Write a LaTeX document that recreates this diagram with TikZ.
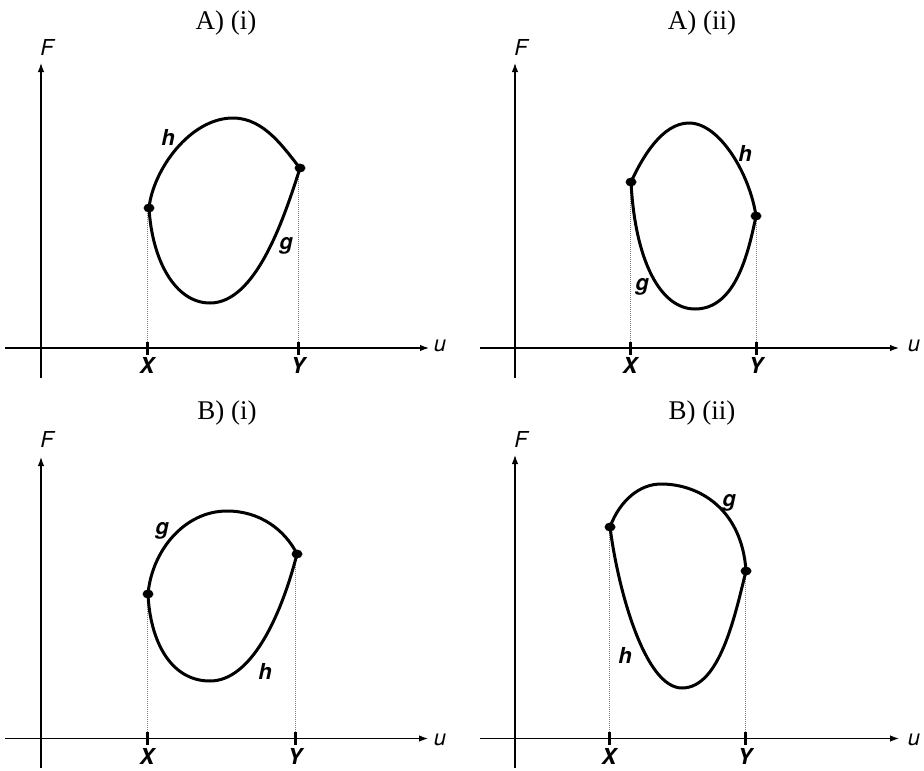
\documentclass[tikz,border=0pt]{standalone}
\usepackage{fontspec}
\setmainfont{Liberation Serif}
\setsansfont{TeX Gyre Heros}
\usetikzlibrary{arrows.meta,shapes.geometric}
\begin{document}
\begin{tikzpicture}[x=1pt,y=-1pt,
 axis/.style={line width=1.2pt,-{Latex[length=9pt,width=6.5pt]}},
 curve/.style={line width=3pt, line join=round},
 tickm/.style={line width=3pt},
 guide/.style={line width=0.6pt, gray, dash pattern=on 0.7pt off 1.3pt},
 dotn/.style={ellipse, fill=black, inner sep=0pt, minimum width=11pt, minimum height=9pt},
 ttl/.style={font=\fontsize{27}{30}\selectfont, anchor=base},
 axl/.style={font=\sffamily\itshape\fontsize{22}{24}\selectfont, inner sep=0pt},
 ptl/.style={font=\sffamily\itshape\bfseries\fontsize{22}{24}\selectfont, inner sep=0pt},
]
\useasboundingbox (0,0) rectangle (924,771);

% ================= A (i) =================
\node[ttl] (aTitle) at (226,29) {A) (i)};
\coordinate (aH1) at (5,348);   \coordinate (aH2) at (429,348);
\coordinate (aV1) at (41,378);  \coordinate (aV2) at (41,63);
\draw[axis] (aH1) -- (aH2);
\draw[axis] (aV1) -- (aV2);
\node[axl] (aF) at (47,47) {F};
\node[axl] (au) at (440,346) {u};
\coordinate (aXt) at (147,342); \coordinate (aXb) at (147,355);
\coordinate (aYt) at (298,342); \coordinate (aYb) at (298,355);
\draw[tickm] (aXt) -- (aXb);
\draw[tickm] (aYt) -- (aYb);
\node[ptl] (aX) at (147,365) {X};
\node[ptl] (aY) at (298,365) {Y};
\coordinate (aT) at (233,118);
\coordinate (aB) at (210,303);
\coordinate (aLp) at (149,208);
\coordinate (aRp) at (300,168);
\draw[guide] (aXt) -- (aXt |- aLp);
\draw[guide] (aYt) -- (aYt |- aRp);
\draw[curve] (aLp) .. controls (153,170) and (190,118) .. (aT)
  .. controls (265,118) and (285,150) .. (aRp)
  .. controls (283,222) and (255,303) .. (aB)
  .. controls (175,303) and (152,260) .. (aLp);
\node[dotn] (aL) at (aLp) {};
\node[dotn] (aR) at (aRp) {};
\node[ptl] (ah) at (168,137) {h};
\node[ptl] (ag) at (286,246) {g};

% ================= A (ii) =================
\node[ttl] (bTitle) at (702,29) {A) (ii)};
\coordinate (bH1) at (480,348);  \coordinate (bH2) at (899,348);
\coordinate (bV1) at (515,378);  \coordinate (bV2) at (515,63);
\draw[axis] (bH1) -- (bH2);
\draw[axis] (bV1) -- (bV2);
\node[axl] (bF) at (521,47) {F};
\node[axl] (bu) at (914,346) {u};
\coordinate (bXt) at (630,342); \coordinate (bXb) at (630,355);
\coordinate (bYt) at (756,342); \coordinate (bYb) at (756,355);
\draw[tickm] (bXt) -- (bXb);
\draw[tickm] (bYt) -- (bYb);
\node[ptl] (bX) at (630,365) {X};
\node[ptl] (bY) at (756,365) {Y};
\coordinate (bT) at (689,123);
\coordinate (bB) at (695,309);
\coordinate (bLp) at (631,182);
\coordinate (bRp) at (756,216);
\draw[guide] (bXt) -- (bXt |- bLp);
\draw[guide] (bYt) -- (bYt |- bRp);
\draw[curve] (bLp) .. controls (642,158) and (662,123) .. (bT)
  .. controls (720,123) and (750,175) .. (bRp)
  .. controls (748,255) and (735,309) .. (bB)
  .. controls (660,309) and (635,260) .. (bLp);
\node[dotn] (bL) at (bLp) {};
\node[dotn] (bR) at (bRp) {};
\node[ptl] (bh) at (745,153) {h};
\node[ptl] (bg) at (642,287) {g};

% ================= B (i) =================
\node[ttl] (cTitle) at (227,419) {B) (i)};
\coordinate (cH1) at (5,738.5);   \coordinate (cH2) at (428,738.5);
\coordinate (cV1) at (41,768);   \coordinate (cV2) at (41,457);
\draw[axis] (cH1) -- (cH2);
\draw[axis] (cV1) -- (cV2);
\node[axl] (cF) at (47,439) {F};
\node[axl] (cu) at (440,740) {u};
\coordinate (cXt) at (147,732); \coordinate (cXb) at (147,745);
\coordinate (cYt) at (295,732); \coordinate (cYb) at (295,745);
\draw[tickm] (cXt) -- (cXb);
\draw[tickm] (cYt) -- (cYb);
\node[ptl] (cX) at (147,756) {X};
\node[ptl] (cY) at (295,756) {Y};
\coordinate (cT) at (227,511);
\coordinate (cB) at (210,681);
\coordinate (cLp) at (148,594);
\coordinate (cRp) at (297,554);
\draw[guide] (cXt) -- (cXt |- cLp);
\draw[guide] (cYt) -- (cYt |- cRp);
\draw[curve] (cLp) .. controls (152,550) and (185,511) .. (cT)
  .. controls (260,511) and (285,530) .. (cRp)
  .. controls (280,620) and (250,681) .. (cB)
  .. controls (170,681) and (150,640) .. (cLp);
\node[dotn] (cL) at (cLp) {};
\node[dotn] (cR) at (cRp) {};
\node[ptl] (cg) at (162,531) {g};
\node[ptl] (ch) at (265,671) {h};

% ================= B (ii) =================
\node[ttl] (dTitle) at (702,419) {B) (ii)};
\coordinate (dH1) at (480,738.5);  \coordinate (dH2) at (899,738.5);
\coordinate (dV1) at (515,768);  \coordinate (dV2) at (515,455);
\draw[axis] (dH1) -- (dH2);
\draw[axis] (dV1) -- (dV2);
\node[axl] (dF) at (521,439) {F};
\node[axl] (du) at (914,740) {u};
\coordinate (dXt) at (609,732); \coordinate (dXb) at (609,745);
\coordinate (dYt) at (745,732); \coordinate (dYb) at (745,745);
\draw[tickm] (dXt) -- (dXb);
\draw[tickm] (dYt) -- (dYb);
\node[ptl] (dX) at (609,756) {X};
\node[ptl] (dY) at (745,756) {Y};
\coordinate (dT) at (661,484);
\coordinate (dB) at (682,688);
\coordinate (dLp) at (610,527);
\coordinate (dRp) at (746,571);
\draw[guide] (dXt) -- (dXt |- dLp);
\draw[guide] (dYt) -- (dYt |- dRp);
\draw[curve] (dLp) .. controls (620,500) and (640,484) .. (dT)
  .. controls (700,484) and (742,510) .. (dRp)
  .. controls (735,615) and (720,688) .. (dB)
  .. controls (645,688) and (618,590) .. (dLp);
\node[dotn] (dL) at (dLp) {};
\node[dotn] (dR) at (dRp) {};
\node[ptl] (dg) at (729,503) {g};
\node[ptl] (dh) at (625,655) {h};
\end{tikzpicture}
\end{document}
